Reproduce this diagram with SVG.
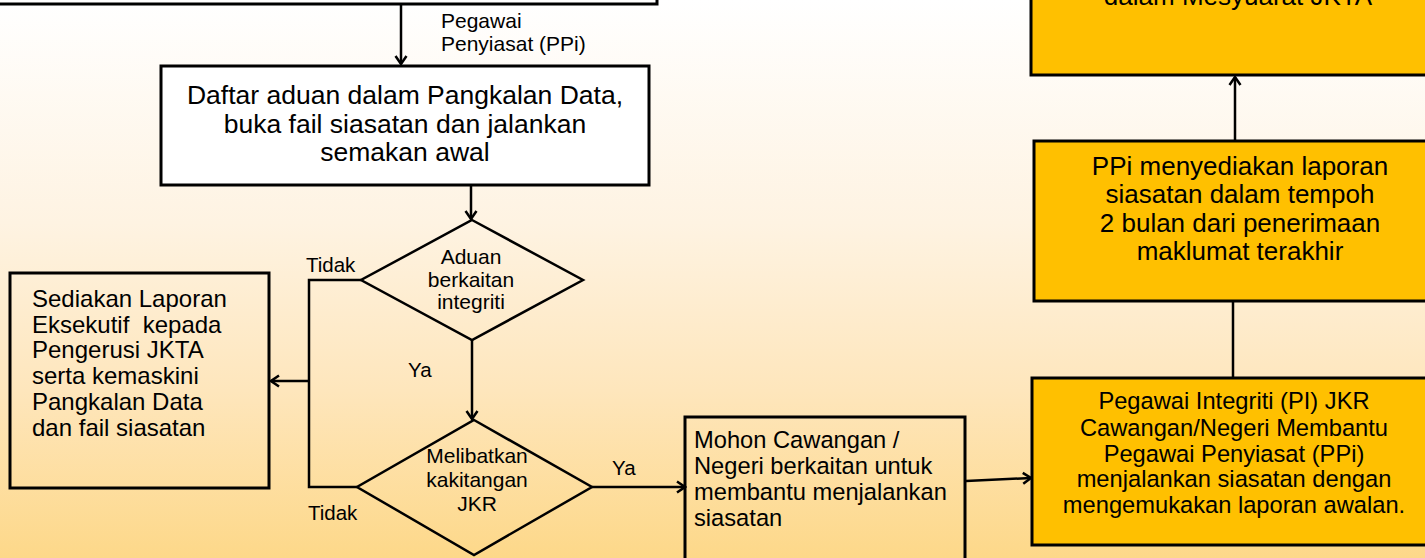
<svg xmlns="http://www.w3.org/2000/svg" width="1425" height="558" viewBox="0 0 1425 558">
  <defs>
    <linearGradient id="bg" x1="0" y1="0" x2="0" y2="1">
      <stop offset="0" stop-color="#FFFFFF"/>
      <stop offset="0.4" stop-color="#FEF3E2"/>
      <stop offset="0.7" stop-color="#FEE6BC"/>
      <stop offset="1" stop-color="#FDD889"/>
    </linearGradient>
    <marker id="arr" markerUnits="userSpaceOnUse" markerWidth="14" markerHeight="14" viewBox="0 0 14 14" refX="12" refY="7" orient="auto">
      <path d="M4,1.5 L12,7 L4,12.5" fill="none" stroke="#000" stroke-width="2.5"/>
    </marker>
    <style>
      .box { stroke: #000; stroke-width: 3; }
      .white { fill: #FFFFFF; }
      .clear { fill: none; }
      .yellow { fill: #FFC000; }
      .dia { fill: none; stroke: #000; stroke-width: 2.5; }
      .conn { fill: none; stroke: #000; stroke-width: 2.5; }
      text { font-family: "Liberation Sans", Arial, sans-serif; fill: #000; white-space: pre; }
      .c { text-anchor: middle; }
    </style>
  </defs>
  <rect x="0" y="0" width="1425" height="558" fill="url(#bg)"/>

  <g id="node-top-left">
    <rect class="box white" x="-10" y="-60" width="667" height="64"/>
  </g>

  <g id="node-daftar">
    <rect class="box white" x="161" y="66" width="488" height="119"/>
    <text class="c" font-size="26.5" x="405" y="104">Daftar aduan dalam Pangkalan Data,</text>
    <text class="c" font-size="26.5" x="405" y="133">buka fail siasatan dan jalankan</text>
    <text class="c" font-size="26.5" x="405" y="161">semakan awal</text>
  </g>

  <g id="node-aduan">
    <polygon class="dia" points="472,220 583,280 472,340 361,280"/>
    <text class="c" font-size="21" x="471" y="264">Aduan</text>
    <text class="c" font-size="21" x="471" y="287">berkaitan</text>
    <text class="c" font-size="21" x="471" y="309">integriti</text>
  </g>

  <g id="node-sediakan">
    <rect class="box clear" x="10" y="273" width="259" height="215"/>
    <text font-size="24" x="32" y="307">Sediakan Laporan</text>
    <text font-size="24" x="32" y="333">Eksekutif  kepada</text>
    <text font-size="24" x="32" y="358">Pengerusi JKTA</text>
    <text font-size="24" x="32" y="384">serta kemaskini</text>
    <text font-size="24" x="32" y="410">Pangkalan Data</text>
    <text font-size="24" x="32" y="436">dan fail siasatan</text>
  </g>

  <g id="node-melibatkan">
    <polygon class="dia" points="474,420 592,487 474,555 357,487"/>
    <text class="c" font-size="21" x="477" y="463">Melibatkan</text>
    <text class="c" font-size="21" x="477" y="487">kakitangan</text>
    <text class="c" font-size="21" x="477" y="511">JKR</text>
  </g>

  <g id="node-mohon">
    <rect class="box clear" x="685" y="417" width="280" height="160"/>
    <text font-size="23.7" x="694" y="448">Mohon Cawangan /</text>
    <text font-size="23.7" x="694" y="474">Negeri berkaitan untuk</text>
    <text font-size="23.7" x="694" y="500">membantu menjalankan</text>
    <text font-size="23.7" x="694" y="526">siasatan</text>
  </g>

  <g id="node-pi">
    <rect class="box yellow" x="1032" y="378" width="420" height="167"/>
    <text class="c" font-size="23.7" x="1234" y="409">Pegawai Integriti (PI) JKR</text>
    <text class="c" font-size="23.7" x="1234" y="436">Cawangan/Negeri Membantu</text>
    <text class="c" font-size="23.7" x="1234" y="462">Pegawai Penyiasat (PPi)</text>
    <text class="c" font-size="23.7" x="1234" y="487">menjalankan siasatan dengan</text>
    <text class="c" font-size="23.7" x="1234" y="513">mengemukakan laporan awalan.</text>
  </g>

  <g id="node-ppi">
    <rect class="box yellow" x="1034" y="141" width="420" height="160"/>
    <text class="c" font-size="26" x="1240" y="175">PPi menyediakan laporan</text>
    <text class="c" font-size="26" x="1240" y="203">siasatan dalam tempoh</text>
    <text class="c" font-size="26" x="1240" y="232">2 bulan dari penerimaan</text>
    <text class="c" font-size="26" x="1240" y="260">maklumat terakhir</text>
  </g>

  <g id="node-top-right">
    <rect class="box yellow" x="1031" y="-60" width="420" height="135"/>
    <text class="c" font-size="26" x="1238" y="5">dalam Mesyuarat JKTA</text>
  </g>

  <g id="connectors">
    <line class="conn" x1="401" y1="5" x2="401" y2="64" marker-end="url(#arr)"/>
    <line class="conn" x1="471" y1="185" x2="471" y2="219" marker-end="url(#arr)"/>
    <polyline class="conn" points="361,280 309,280 309,487 357,487"/>
    <line class="conn" x1="309" y1="381" x2="271" y2="381" marker-end="url(#arr)"/>
    <line class="conn" x1="472" y1="340" x2="472" y2="419" marker-end="url(#arr)"/>
    <line class="conn" x1="592" y1="487" x2="685" y2="487" marker-end="url(#arr)"/>
    <line class="conn" x1="966" y1="481" x2="1031" y2="478" marker-end="url(#arr)"/>
    <line class="conn" x1="1233" y1="377" x2="1233" y2="301"/>
    <line class="conn" x1="1235" y1="141" x2="1235" y2="77" marker-end="url(#arr)"/>
    <text font-size="21" x="441" y="28">Pegawai</text>
    <text font-size="21" x="441" y="51">Penyiasat (PPi)</text>
    <text font-size="20.5" x="306" y="272">Tidak</text>
    <text font-size="20.5" x="408" y="377">Ya</text>
    <text font-size="20.5" x="308" y="520">Tidak</text>
    <text font-size="20.5" x="612" y="475">Ya</text>
  </g>
</svg>
